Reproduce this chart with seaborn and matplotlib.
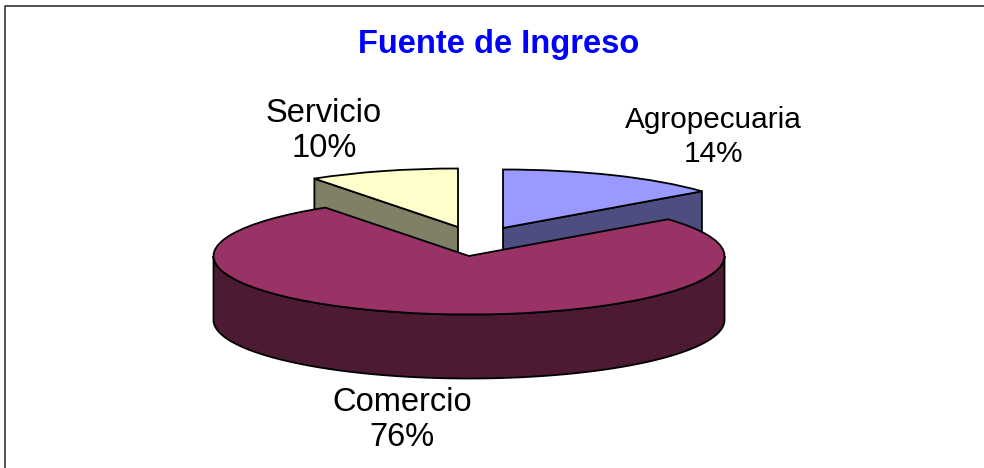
import numpy as np
import matplotlib
matplotlib.use("Agg")
from matplotlib import pyplot as plt
from matplotlib.lines import Line2D
import seaborn as sns

# datos
categories = ["Agropecuaria", "Comercio", "Servicio"]
values = [14.2, 76.3, 9.5]

top_colors = ["#9999FF", "#993366", "#FFFFCC"]
side_colors = ["#4D4D80", "#4D1A33", "#808066"]

W, H = 984, 468
CX, CY = 469, 256   # centro de la torta en pixeles
RX, RY = 255.5, 58.5  # radio horizontal y vertical en pixeles
DEPTH = 64 / RY     # alto del cilindro
offsets = [(34 / RX, 28 / RY), (0, 0), (-11 / RX, 29 / RY)]  # sectores separados

# donde va cada etiqueta (pixeles) y su tamano
label_pos = [(713, 137), (402, 420), (324, 131)]
label_size = [21.4, 23.5, 23.5]
label_space = [1.29, 1.16, 1.16]

sns.set_theme(style="white")
plt.rcParams["font.family"] = ["Liberation Sans", "DejaVu Sans"]

fig = plt.figure(figsize=(W / 100, H / 100), dpi=100)
ax = fig.add_axes([0, 0, 1, 1])

wedges, _ = ax.pie(values, startangle=90, counterclock=False, colors=top_colors,
                   wedgeprops={"edgecolor": "black", "linewidth": 1.3})
ax.set_aspect("auto")
ax.set_xlim(-CX / RX, (W - CX) / RX)
ax.set_ylim(-(H - CY) / RY, CY / RY)
ax.axis("off")

for wedge, off, side in zip(wedges, offsets, side_colors):
    wedge.set_center(off)
    wedge.set_clip_on(False)
    big = wedge.theta2 - wedge.theta1 > 180
    wedge.set_zorder(5 if big else 2)
    if big:
        # pared exterior, solo la mitad de adelante
        t = np.radians(np.linspace(180, 360, 200))
        xs = np.cos(t) + off[0]
        ys = np.sin(t) + off[1]
        ax.fill(np.r_[xs, xs[::-1]], np.r_[ys, ys[::-1] - DEPTH],
                facecolor=side, edgecolor="black", linewidth=1.3, zorder=4)
    else:
        # cara del corte que mira hacia adelante
        ang = wedge.theta1 if np.cos(np.radians(wedge.theta1)) > 0.01 else wedge.theta2
        ex = np.cos(np.radians(ang)) + off[0]
        ey = np.sin(np.radians(ang)) + off[1]
        ax.fill([off[0], ex, ex, off[0]], [off[1], ey, ey - DEPTH, off[1] - DEPTH],
                facecolor=side, edgecolor="black", linewidth=1.3, zorder=1)

fig.text(499 / W, 1 - 44 / H, "Fuente de Ingreso", color="#0000FF", fontsize=23.5,
         fontweight="bold", ha="center", va="center")

for name, val, (px, py), size, space in zip(categories, values, label_pos, label_size, label_space):
    fig.text(px / W, 1 - py / H, f"{name}\n{val:.0f}%", color="black", fontsize=size,
             ha="center", va="center", linespacing=space)

# marco: solo se ve el borde izquierdo y el de arriba
fig.add_artist(Line2D([5 / W, 5 / W, 1], [0, 1 - 6 / H, 1 - 6 / H], color="#333333", linewidth=1.2))

fig.savefig("out.png", dpi=100, facecolor="white")
